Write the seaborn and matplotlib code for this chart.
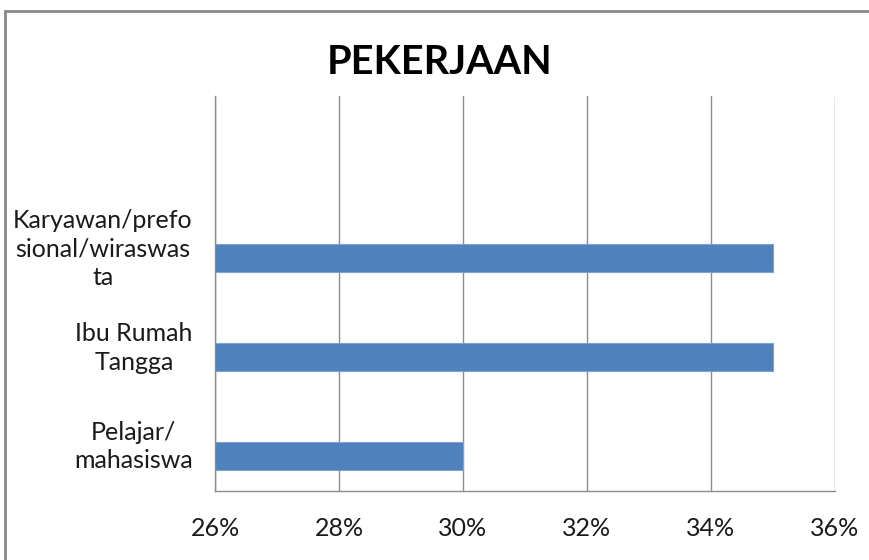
import pandas as pd
import matplotlib.pyplot as plt
import seaborn as sns
from matplotlib.patches import Rectangle
from matplotlib.ticker import PercentFormatter

# Kategorien (von oben nach unten), oberste Zeile ist im Original leer
kategori = [" ", "Karyawan/prefo\nsional/wiraswas\nta", "Ibu Rumah\nTangga", "Pelajar/\nmahasiswa"]
# zweite (leere) Serie wie im Excel-Diagramm -> Balken sitzen leicht unterhalb der Mitte
seri = ["Seri kosong", "Persentase"]
nilai_kosong = [None, None, None, None]
nilai = [None, 0.35, 0.35, 0.30]
x_ticks = [0.26, 0.28, 0.30, 0.32, 0.34, 0.36]

df = pd.DataFrame({
    "kategori": kategori * 2,
    "seri": [seri[0]] * len(kategori) + [seri[1]] * len(kategori),
    "nilai": nilai_kosong + nilai,
}).dropna()

sns.set_style("white")
plt.rcParams["font.family"] = ["Lato", "DejaVu Sans"]

fig = plt.figure(figsize=(8.7, 5.6), dpi=100)
ax = fig.add_axes([215 / 870, 1 - 491 / 560, 620 / 870, 395 / 560])

sns.barplot(
    data=df, x="nilai", y="kategori", hue="seri",
    order=kategori, hue_order=seri, orient="h",
    palette=["#4F81BD", "#4F81BD"], width=0.567, dodge=True,
    errorbar=None, legend=False, ax=ax, saturation=1,
    edgecolor="#7EA3D1", linewidth=0.8,
)

ax.set_xlim(x_ticks[0], x_ticks[-1])
ax.set_xticks(x_ticks)
ax.xaxis.set_major_formatter(PercentFormatter(1.0, decimals=0))
ax.xaxis.grid(True, color="#8c8c8c", linewidth=1)
ax.set_axisbelow(True)

for s in ["top", "right"]:
    ax.spines[s].set_visible(False)
for s in ["left", "bottom"]:
    ax.spines[s].set_color("#8c8c8c")
    ax.spines[s].set_linewidth(1)

ax.set_xlabel("")
ax.set_ylabel("")
ax.tick_params(axis="x", length=0, pad=19, labelsize=18, labelcolor="#1a1a1a")
ax.tick_params(axis="y", length=0, pad=16, labelsize=18, labelcolor="#1a1a1a")
for lbl in ax.get_yticklabels():
    lbl.set_multialignment("center")
    lbl.set_linespacing(1.3)

fig.text(440 / 870, 1 - 63 / 560, "PEKERJAAN", ha="center", va="center",
         fontsize=28.5, fontweight="bold", color="black")

# grauer Rahmen des Diagrammbereichs (rechts/unten abgeschnitten)
fig.patches.append(Rectangle((5 / 870, -0.05), 1.0, 1 - 11 / 560 + 0.05,
                             transform=fig.transFigure, fill=False,
                             edgecolor="#888888", linewidth=2))

fig.savefig("out.png", dpi=100)
